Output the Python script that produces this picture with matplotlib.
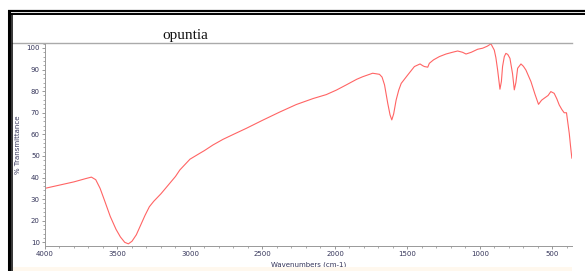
import matplotlib
matplotlib.use('Agg')
import matplotlib.pyplot as plt
from matplotlib.lines import Line2D
from matplotlib.patches import Rectangle
from matplotlib.ticker import MultipleLocator

# Data
wavenumber = [4000, 3900, 3800, 3720, 3680, 3650, 3620, 3590, 3550, 3510,
              3480, 3450, 3425, 3400, 3370, 3340, 3310, 3280, 3250, 3200,
              3150, 3100, 3070, 3000, 2933, 2900, 2841, 2772, 2700, 2611,
              2500, 2382, 2267, 2150, 2060, 1990, 1922, 1850, 1808, 1740,
              1693, 1675, 1658, 1636, 1620, 1608, 1595, 1578, 1560, 1543,
              1498, 1452, 1413, 1395, 1383, 1360, 1349, 1320, 1280, 1234,
              1190, 1154, 1120, 1096, 1060, 1016, 981, 950, 924, 901,
              890, 878, 862, 852, 844, 832, 821, 808, 793, 775,
              763, 752, 740, 717, 700, 683, 648, 620, 596, 575,
              557, 530, 511, 488, 470, 453, 435, 419, 403, 395,
              384, 375, 366]
transmittance = [35.0, 36.5, 38.0, 39.5, 40.2, 39.0, 35.0, 29.5, 22.0, 16.0,
                 12.5, 10.0, 9.3, 10.5, 13.5, 18.0, 22.5, 26.5, 29.0, 32.5,
                 36.5, 40.5, 43.5, 48.5, 51.2, 52.5, 55.1, 57.7, 60.0, 62.8,
                 66.5, 70.3, 73.8, 76.6, 78.4, 80.5, 82.9, 85.5, 86.7, 88.3,
                 87.8, 86.5, 82.9, 74.4, 69.0, 66.7, 69.5, 75.9, 80.5, 83.6,
                 87.5, 91.4, 92.6, 91.8, 91.4, 91.1, 92.9, 94.5, 96.0, 97.2,
                 98.0, 98.6, 98.0, 97.2, 98.0, 99.4, 99.9, 100.8, 101.9, 99.0,
                 95.5, 89.8, 80.9, 84.5, 91.4, 96.0, 97.5, 97.0, 95.2, 88.0,
                 80.6, 84.0, 90.6, 92.6, 91.5, 89.8, 84.4, 78.5, 73.9, 75.8,
                 76.7, 78.0, 79.8, 79.0, 76.5, 73.6, 71.5, 70.0, 70.0, 66.0,
                 60.5, 54.5, 49.0]

fig = plt.figure(figsize=(5.85, 2.71), dpi=100)

W, H = 585.0, 271.0
ax = fig.add_axes([45 / W, 1 - 246 / H, (572 - 45) / W, (246 - 43) / H])
ax.plot(wavenumber, transmittance, color='#ff6464', lw=0.8)

ax.set_xlim(4000, 365)
ax.set_ylim(8.3, 102.3)
ax.xaxis.set_major_locator(MultipleLocator(500))
ax.xaxis.set_minor_locator(MultipleLocator(100))
ax.yaxis.set_major_locator(MultipleLocator(10))
ax.yaxis.set_minor_locator(MultipleLocator(2))

lab_col = '#35355a'
ax.tick_params(which='both', direction='out', colors='#888888',
               labelcolor=lab_col, labelsize=5, pad=1.5)
ax.tick_params(which='major', length=2.2, width=0.6)
ax.tick_params(which='minor', length=1.2, width=0.5)
for s in ['right', 'top']:
    ax.spines[s].set_visible(False)
for s in ['left', 'bottom']:
    ax.spines[s].set_color('#999999')
    ax.spines[s].set_linewidth(0.7)

ax.set_xlabel('Wavenumbers (cm-1)', fontsize=5, color=lab_col, labelpad=3)
ax.set_ylabel('% Transmittance', fontsize=5, color=lab_col, labelpad=4)

# title and frame decorations
fig.text(185 / W, 1 - 36 / H, 'opuntia', family='Liberation Serif',
         fontsize=11, ha='center', va='center', color='#111111')
fig.add_artist(Line2D([12 / W, 572 / W], [1 - 43 / H] * 2,
                      color='#aaaaaa', lw=1.0))
fig.add_artist(Line2D([8 / W, 1], [1 - 11 / H] * 2, color='black', lw=1.6,
                      solid_capstyle='butt'))
fig.add_artist(Line2D([11 / W, 1], [1 - 14.3 / H] * 2, color='black', lw=1.4,
                      solid_capstyle='butt'))
fig.add_artist(Line2D([9 / W] * 2, [0, 1 - 10 / H], color='black', lw=2.2,
                      solid_capstyle='butt'))
fig.add_artist(Line2D([12.3 / W] * 2, [0, 1 - 14 / H], color='black', lw=1.1,
                      solid_capstyle='butt'))
fig.add_artist(Rectangle((13 / W, 0), (572 - 13) / W, 4 / H,
                         color='#fff8ee', lw=0))

fig.savefig('out.png', dpi=100)
